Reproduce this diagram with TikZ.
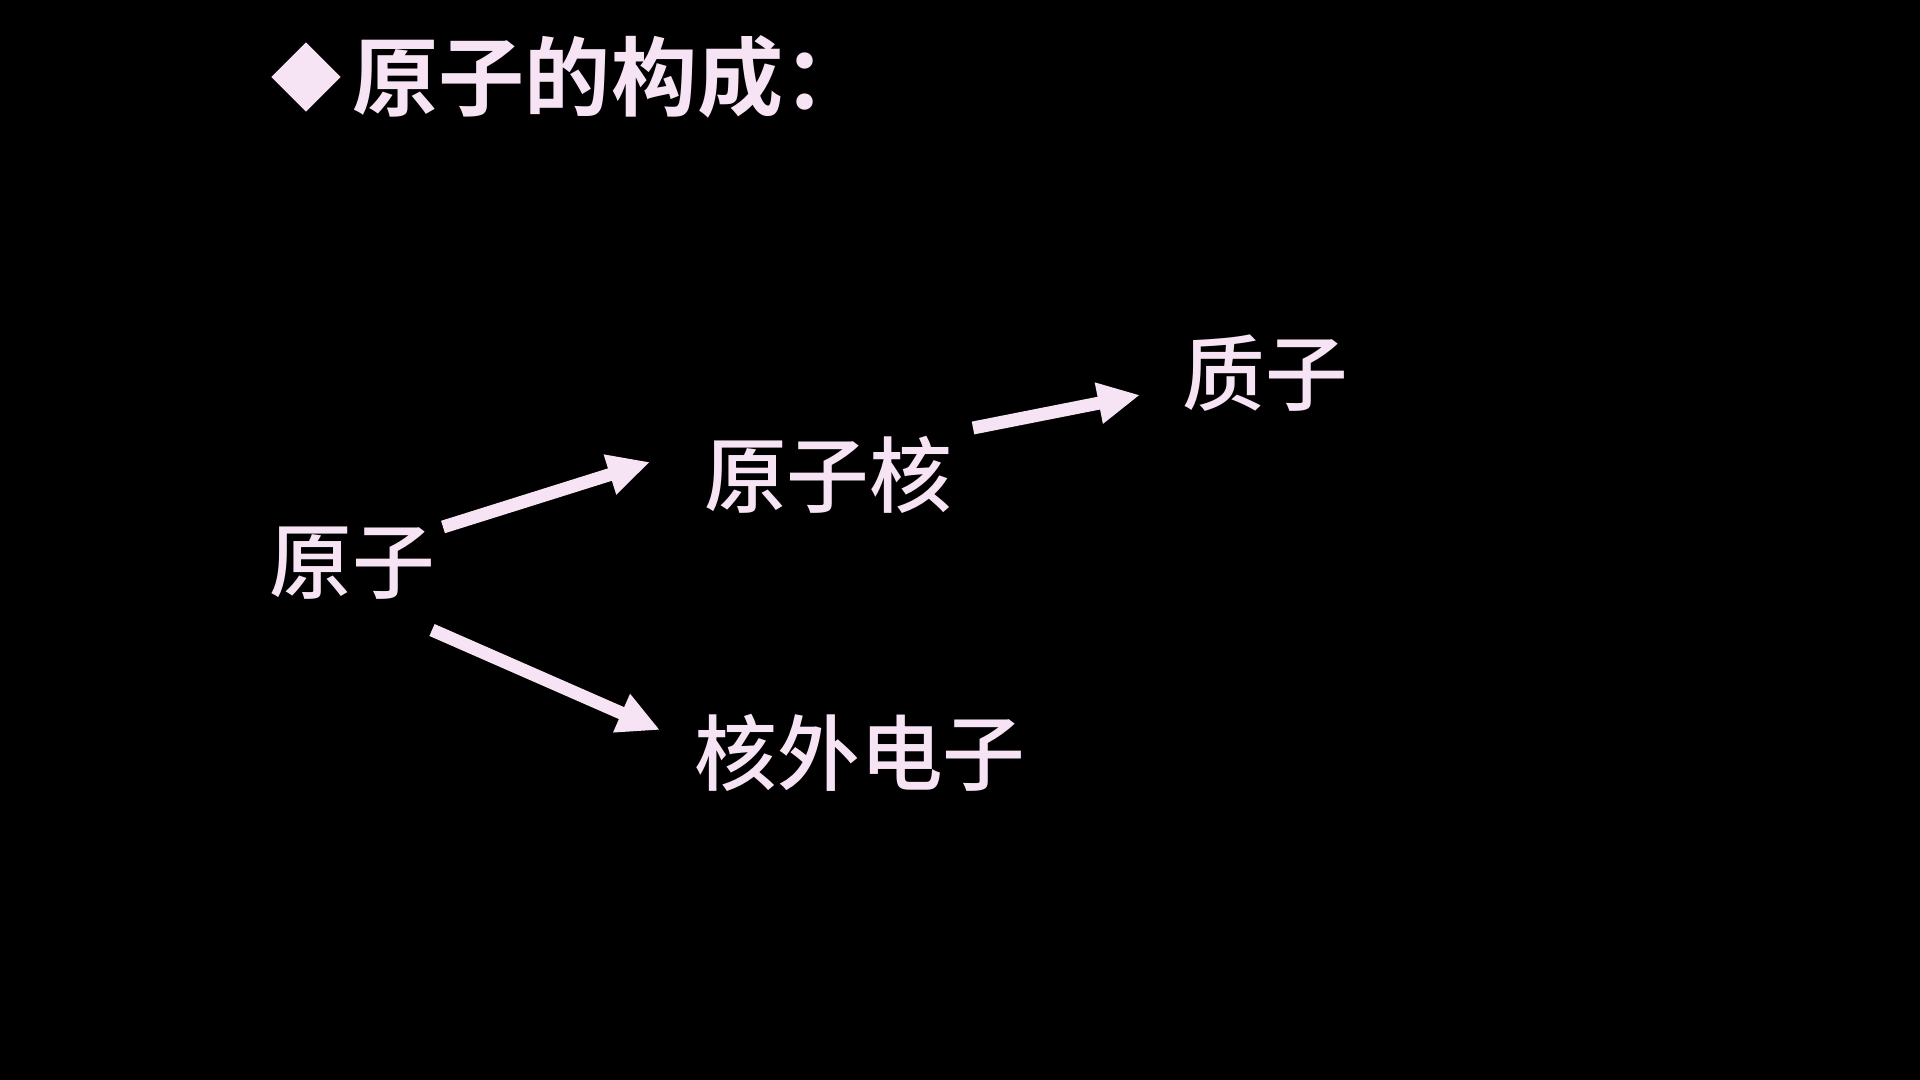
\documentclass[tikz,border=0pt]{standalone}
\usepackage{fontspec}
\usepackage{tikz}
\usetikzlibrary{arrows.meta,positioning,shapes.geometric}
\newfontfamily\cjk{Noto Sans CJK SC Medium}
\newfontfamily\cjkbold{Noto Sans CJK SC Bold}
\definecolor{chalk}{RGB}{246,228,244}

\begin{document}
\begin{tikzpicture}[x=1cm,y=-1cm,
  term/.style={text=chalk,font=\cjk\fontsize{23.5}{28}\selectfont,inner sep=0pt},
  head/.style={text=chalk,font=\cjkbold\fontsize{24.5}{29}\selectfont,inner sep=0pt,anchor=west},
  arr/.style={-{Triangle[length=4.2mm,width=3.9mm]},line width=1.3mm,draw=chalk}]
\fill[black] (0,0) rectangle (19.2,10.8);
\node[diamond,fill=chalk,minimum size=7mm,inner sep=0pt] (mark) at (3.06,0.77) {};
\node[head] (title) at (3.52,0.77) {原子的构成：};
\node[term] (atom) at (3.52,5.63) {原子};
\node[term] (nucleus) at (8.28,4.75) {原子核};
\node[term] (proton) at (12.65,3.73) {质子};
\node[term] (electron) at (8.60,7.53) {核外电子};
% arrow ends
\coordinate (a1) at (4.43,5.27); \coordinate (b1) at (6.50,4.62);
\coordinate (a2) at (4.32,6.30); \coordinate (b2) at (6.60,7.30);
\coordinate (a3) at (9.73,4.28); \coordinate (b3) at (11.40,3.95);
\draw[arr] (a1)--(b1); \draw[arr] (a2)--(b2); \draw[arr] (a3)--(b3);
\end{tikzpicture}
\end{document}
